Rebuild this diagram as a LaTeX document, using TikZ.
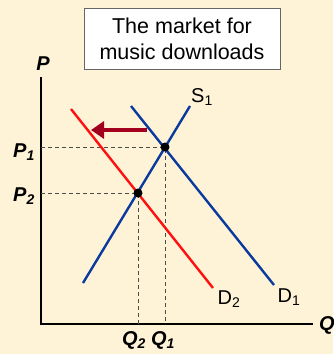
\documentclass[tikz,border=0pt]{standalone}
\usepackage{fontspec}
\setmainfont{Liberation Sans}
\usetikzlibrary{arrows.meta}
\definecolor{bg}{HTML}{FEF3D6}
\definecolor{cblue}{HTML}{0A3A9E}
\definecolor{cred}{HTML}{FF1010}
\definecolor{carrow}{HTML}{A3001E}
\tikzset{
  curve/.style={line width=2.4pt},
  guide/.style={dashed, dash pattern=on 4pt off 3pt, line width=0.8pt, black!70},
  axis/.style={line width=1.3pt},
  dot/.style={circle, fill=black, inner sep=0pt, minimum size=9pt},
  lab/.style={font=\fontsize{20}{22}\selectfont\bfseries\itshape, inner sep=1pt},
  clab/.style={font=\fontsize{20}{22}\selectfont, inner sep=1pt},
}
\begin{document}
\begin{tikzpicture}[x=1pt,y=-1pt]
\fill[bg] (0,0) rectangle (333,354);
\useasboundingbox (0,0) rectangle (333,354);
% title
\node[draw=black!60, fill=white, line width=0.8pt, minimum width=196pt, minimum height=61pt, align=center,
      font=\fontsize{21.5}{26}\selectfont] (title) at (182,38.5) {The market for\\music downloads};
% axes
\coordinate (o) at (41,324);
\coordinate (ytop) at (41,77);
\coordinate (xend) at (313,324);
\draw[axis] (ytop) -- (o) -- (xend);
\node[lab] (P) at (43,64) {P};
\node[lab] (Q) at (327,325) {Q};
% points
\coordinate (e1) at (165,147);
\coordinate (e2) at (138,193);
\coordinate (p1a) at (41,147);
\coordinate (p2a) at (41,193);
\coordinate (q1a) at (165,324);
\coordinate (q2a) at (138,324);
\draw[guide] (p1a) -- (e1) -- (q1a);
\draw[guide] (p2a) -- (e2) -- (q2a);
% curves
\coordinate (s1a) at (83,283);
\coordinate (s1b) at (190,106);
\coordinate (d1a) at (131,106);
\coordinate (d1b) at (274,285);
\coordinate (d2a) at (71,109);
\coordinate (d2b) at (213,288);
\draw[curve, cred] (d2a) -- (d2b);
\draw[curve, cblue] (d1a) -- (d1b);
\draw[curve, cblue] (s1a) -- (s1b);
\node[dot] (n1) at (e1) {};
\node[dot] (n2) at (e2) {};
% arrow
\coordinate (ar1) at (147,130);
\coordinate (ar2) at (91,130);
\draw[carrow, line width=4.5pt, -{Triangle[length=13pt,width=17pt]}] (ar1) -- (ar2);
% labels
\node[clab] (S1) at (202,97) {S\textsubscript{1}};
\node[clab] (D1) at (289,297) {D\textsubscript{1}};
\node[clab] (D2) at (229,299) {D\textsubscript{2}};
\node[lab] (P1) at (24,152) {P\textsubscript{1}};
\node[lab] (P2) at (24,196) {P\textsubscript{2}};
\node[lab] (Q2) at (134,340) {Q\textsubscript{2}};
\node[lab] (Q1) at (163,340) {Q\textsubscript{1}};
\end{tikzpicture}
\end{document}
